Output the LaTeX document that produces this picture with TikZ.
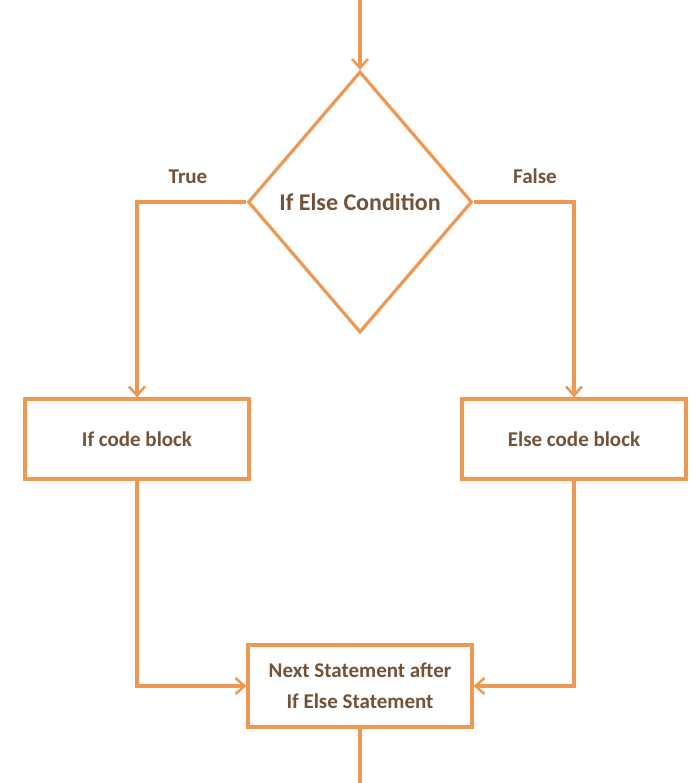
\documentclass[tikz,border=0pt]{standalone}
\usepackage{fontspec}
\setmainfont{Carlito}
\usetikzlibrary{shapes.geometric,arrows.meta}
\definecolor{flowline}{RGB}{238,152,82}
\definecolor{flowtext}{RGB}{115,82,58}
\begin{document}
\begin{tikzpicture}[x=1pt,y=-1pt,
  line width=3.2pt,
  every node/.style={font=\bfseries\fontsize{21}{25}\selectfont, text=flowtext},
  box/.style={draw=flowline, rectangle, minimum width=224pt, minimum height=80pt, inner sep=0pt, align=center},
  decision/.style={draw=flowline, diamond, minimum width=224pt, minimum height=261pt, inner sep=0pt},
  flow/.style={draw=flowline, -{Straight Barb[length=9pt,width=16pt,line width=2.5pt]}},
  link/.style={draw=flowline}]
\useasboundingbox (0,0) rectangle (692,783);
\fill[white] (0,0) rectangle (692,783);

% shapes
\node[decision] (cond) at (360,202) {\fontsize{24}{28}\selectfont If Else Condition};
\node[box] (ifb) at (137,439) {If code block};
\node[box] (elseb) at (574,439) {Else code block};
\node[box, minimum height=82pt, font=\bfseries\fontsize{21}{31}\selectfont] (next) at (360,686) {Next Statement after\\If Else Statement};

% branch labels
\node (true) at (188,177) {True};
\node (false) at (535,176) {False};

% free ends
\coordinate (start) at (360,0);
\coordinate (finish) at (360,783);

% connectors
\draw[flow] (start) -- (cond.north);
\draw[flow] (cond.west) -| (ifb.north);
\draw[flow] (cond.east) -| (elseb.north);
\draw[flow] (ifb.south) |- (next.west);
\draw[flow] (elseb.south) |- (next.east);
\draw[link] (next.south) -- (finish);
\end{tikzpicture}
\end{document}
